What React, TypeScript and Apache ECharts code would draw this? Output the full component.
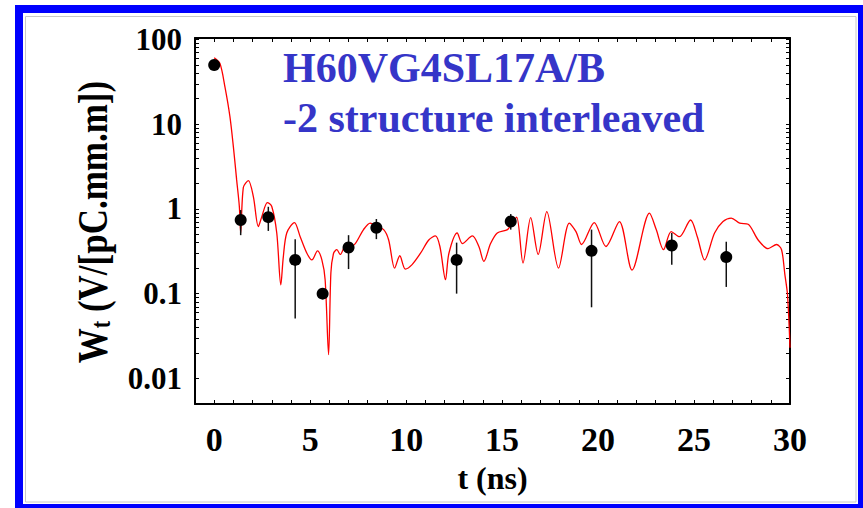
import React, { useEffect, useRef } from 'react';
import * as echarts from 'echarts';

// Red wake curve (t in ns, Wt in V/[pC.mm.m])
const curveT = [0, 0.3, 0.56, 0.82, 1.0, 1.17, 1.31, 1.38, 1.52, 1.78, 2.04, 2.3, 2.48, 2.77, 3.0, 3.26, 3.47, 3.6, 3.78, 4.18, 4.48, 4.83, 5.09, 5.38, 5.61, 5.78, 5.96, 6.08, 6.22, 6.39, 6.57, 6.83, 7.0, 7.35, 7.78, 8.13, 8.45, 8.83, 9.09, 9.4, 9.67, 9.96, 10.31, 10.75, 11.18, 11.53, 11.76, 12.05, 12.23, 12.66, 12.93, 13.45, 13.79, 14.05, 14.4, 14.75, 15.28, 15.54, 15.76, 16.09, 16.49, 16.88, 17.33, 17.94, 18.5, 18.85, 19.14, 19.8, 20.41, 21.11, 21.77, 22.68, 23.03, 23.41, 23.81, 24.24, 24.82, 25.17, 25.55, 26.07, 26.51, 26.94, 27.38, 27.82, 28.34, 28.86, 29.3, 29.56, 29.73, 29.87, 30.0];
const curveV = [61, 52, 27.6, 12.3, 5.4, 2.2, 1.07, 0.52, 1.8, 2.16, 1.4, 0.62, 0.81, 1.19, 1.07, 0.52, 0.127, 0.27, 0.52, 0.69, 0.47, 0.3, 0.25, 0.32, 0.25, 0.146, 0.019, 0.176, 0.3, 0.33, 0.29, 0.36, 0.35, 0.39, 0.57, 0.68, 0.62, 0.57, 0.43, 0.2, 0.28, 0.195, 0.22, 0.3, 0.43, 0.48, 0.36, 0.146, 0.3, 0.52, 0.39, 0.48, 0.36, 0.24, 0.39, 0.52, 0.57, 0.69, 0.8, 0.23, 0.79, 0.29, 0.93, 0.2, 0.68, 0.54, 0.38, 0.69, 0.36, 0.71, 0.19, 0.89, 0.57, 0.33, 0.54, 0.47, 0.74, 0.47, 0.25, 0.52, 0.71, 0.78, 0.68, 0.66, 0.43, 0.34, 0.38, 0.33, 0.17, 0.097, 0.023];

// Measured points with error bars
const pointT = [0, 1.38, 2.82, 4.22, 5.65, 7.0, 8.45, 12.63, 15.45, 19.66, 23.84, 26.68];
const pointV = [50, 0.74, 0.8, 0.25, 0.1, 0.35, 0.6, 0.25, 0.71, 0.32, 0.37, 0.27];
const errLow = [46, 0.49, 0.55, 0.051, 0.1, 0.195, 0.44, 0.1, 0.57, 0.069, 0.22, 0.12];
const errHigh = [54, 0.97, 1.06, 0.44, 0.1, 0.49, 0.76, 0.4, 0.87, 0.57, 0.52, 0.41];

const xTickLabels = [0, 5, 10, 15, 20, 25, 30];
const yDecades = [-2, -1, 0, 1, 2];
const yTickLabels = ['0.01', '0.1', '1', '10', '100'];

const FONT = '"Liberation Serif", "Times New Roman", serif';

export default function App() {
  const ref = useRef<HTMLDivElement>(null);
  useEffect(() => {
    const chart = echarts.init(ref.current!, null, { renderer: 'svg' });
    const lg = (v: number) => Math.log10(v);
    const yMinor: number[] = [];
    for (let d = -2; d <= 1; d++) for (let k = 1; k <= 9; k++) yMinor.push(d + Math.log10(k));
    yMinor.push(2);
    const xMinor: number[] = [];
    for (let i = 0; i <= 30; i++) xMinor.push(i);

    const axisLine = { show: true, onZero: false, lineStyle: { color: '#000', width: 2 } };
    const xBase = {
      type: 'value', min: -1, max: 30,
      axisLine,
      axisTick: { show: true, inside: true, length: 4, customValues: xMinor, lineStyle: { color: '#000', width: 1 } },
      splitLine: { show: false },
    };
    const yBase = {
      type: 'value', min: -2.303, max: 2.018,
      axisLine,
      axisTick: { show: true, inside: true, length: 4, customValues: yMinor, lineStyle: { color: '#000', width: 1 } },
      splitLine: { show: false },
    };

    chart.setOption({
      animation: false,
      backgroundColor: '#fff',
      grid: { left: 195, top: 38, width: 595, height: 366, containLabel: false },
      xAxis: [
        {
          ...xBase, position: 'bottom',
          axisLabel: { customValues: xTickLabels, margin: 18, color: '#000', fontFamily: FONT, fontWeight: 'bold', fontSize: 34 },
          name: 't (ns)', nameLocation: 'middle', nameGap: 58,
          nameTextStyle: { color: '#000', fontFamily: FONT, fontWeight: 'bold', fontSize: 32 },
        },
        { ...xBase, position: 'top', axisLabel: { show: false } },
      ],
      yAxis: [
        {
          ...yBase, position: 'left',
          axisLabel: {
            customValues: yDecades, margin: 13, color: '#000', fontFamily: FONT, fontWeight: 'bold', fontSize: 31,
            formatter: (v: number) => yTickLabels[Math.round(v) + 2],
          },
        },
        { ...yBase, position: 'right', axisLabel: { show: false } },
      ],
      graphic: [
        { type: 'rect', silent: true, shape: { x: 19, y: 9, width: 843, height: 499 }, style: { fill: 'none', stroke: '#0000ff', lineWidth: 8 } },
        { type: 'rect', silent: true, shape: { x: 25.5, y: 16.5, width: 830.5, height: 485.5 }, style: { fill: 'none', stroke: '#c8c8c8', lineWidth: 1 } },
        {
          type: 'text', x: 283, y: 67.5, silent: true,
          style: { text: 'H60VG4SL17A/B', font: `bold 42px ${FONT}`, fill: '#3535c8', align: 'left', textAlign: 'left', verticalAlign: 'middle', textVerticalAlign: 'middle' },
        },
        {
          type: 'text', x: 283, y: 117.5, silent: true,
          style: { text: '-2 structure interleaved', font: `bold 42px ${FONT}`, fill: '#3535c8', align: 'left', textAlign: 'left', verticalAlign: 'middle', textVerticalAlign: 'middle' },
        },
        {
          type: 'text', x: 93, y: 222, rotation: Math.PI / 2, scaleX: 1, scaleY: 1.2, silent: true,
          style: {
            text: '{w|W}{s|t}{w| (V/[pC.mm.m])}',
            fill: '#000', fontFamily: FONT, fontWeight: 'bold', fontSize: 35,
            align: 'center', textAlign: 'center', verticalAlign: 'middle', textVerticalAlign: 'middle',
            rich: {
              w: { fontFamily: FONT, fontWeight: 'bold', fontSize: 35, fill: '#000' },
              s: { fontFamily: FONT, fontWeight: 'bold', fontSize: 22, fill: '#000', verticalAlign: 'bottom' },
            },
          },
        },
      ],
      series: [
        {
          type: 'line', xAxisIndex: 0, yAxisIndex: 0,
          data: curveT.map((t, i) => [t, lg(curveV[i])]),
          showSymbol: false, symbol: 'none', smooth: 0.3,
          lineStyle: { color: '#ff0000', width: 1.3 }, z: 2,
        },
        {
          type: 'custom', xAxisIndex: 0, yAxisIndex: 0,
          data: pointT.map((t, i) => [t, lg(errLow[i]), lg(errHigh[i])]),
          encode: { x: 0, y: [1, 2] },
          renderItem: (params: any, api: any) => {
            const p1 = api.coord([api.value(0), api.value(1)]);
            const p2 = api.coord([api.value(0), api.value(2)]);
            return { type: 'line', shape: { x1: p1[0], y1: p1[1], x2: p2[0], y2: p2[1] }, style: { stroke: '#111', lineWidth: 1.5 } };
          },
          z: 3,
        },
        {
          type: 'scatter', xAxisIndex: 0, yAxisIndex: 0,
          data: pointT.map((t, i) => [t, lg(pointV[i])]),
          symbol: 'circle', symbolSize: 12,
          itemStyle: { color: '#000', opacity: 1 }, z: 4,
        },
      ],
    });
    return () => chart.dispose();
  }, []);
  return <div ref={ref} style={{ position: 'absolute', left: 0, top: 0, width: 863, height: 508, background: '#fff' }} />;
}
